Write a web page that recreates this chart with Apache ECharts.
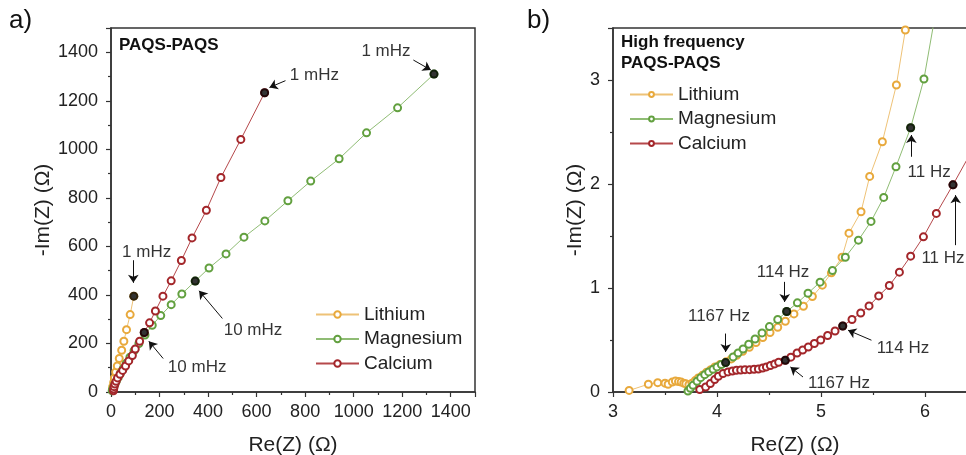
<!DOCTYPE html>
<html>
<head>
<meta charset="utf-8">
<script src="https://cdn.jsdelivr.net/npm/echarts@6/dist/echarts.min.js"></script>
<style>
html, body { margin: 0; padding: 0; background: #fff; }
#chart { width: 966px; height: 455px; }
</style>
</head>
<body>
<div id="chart"></div>
<script>
// a) full spectrum, Re(Z) / -Im(Z) in ohm
var lithiumA = [[6,8],[7,22],[11,39],[14,58],[19,82],[26,107],[34,138],[44,172],[53,209],[64,257],[79,319],[94,395]];
var magnesiumA = [[5,5],[7,12],[11,21],[16,32],[22,45],[30,60],[39,77],[50,96],[63,118],[78,143],[95,170],[115,200],[140,235],
  [170,275],[205,315],[248,360],[292,404],[347,457],[404,511],[474,569],[548,638],[634,705],[729,788],[823,869],
  [940,961],[1053,1068],[1181,1171],[1331,1310]];
var calciumA = [[10,5],[11,12],[13,22],[16,33],[21,44],[27,58],[37,73],[48,89],[60,107],[73,128],[88,150],[100,177],
  [118,209],[137,245],[159,285],[183,334],[214,395],[248,458],[290,542],[334,635],[393,749],[453,884],[535,1041],[633,1233]];
var markedA = [[94,395],[633,1233],[1331,1310],[347,457],[137,245]];
var notesA = [
  { text: '1 mHz', at: [1133,1402], from: [1246,1368], to: [1318,1327] },
  { text: '1 mHz', at: [838,1306], from: [719,1283], to: [653,1255] },
  { text: '1 mHz', at: [147,575], from: [92,543], to: [92,450] },
  { text: '10 mHz', at: [585,254], from: [459,303], to: [363,417] },
  { text: '10 mHz', at: [355,103], from: [215,138], to: [156,209] }
];

// b) high frequency zoom
var lithiumB = [[3.155,0.015],[3.34,0.075],[3.43,0.09],[3.50,0.085],[3.53,0.075],[3.57,0.095],[3.60,0.105],[3.63,0.10],
  [3.655,0.095],[3.68,0.085],[3.70,0.08],[3.73,0.07],[3.76,0.085],[3.79,0.11],[3.82,0.135],[3.86,0.16],[3.90,0.19],
  [3.94,0.215],[3.98,0.24],[4.03,0.265],[4.087,0.29],[4.138,0.318],[4.189,0.353],[4.247,0.392],[4.311,0.43],
  [4.375,0.475],[4.44,0.523],[4.51,0.571],[4.584,0.623],[4.657,0.68],[4.74,0.751],[4.831,0.825],[4.917,0.918],
  [5.013,1.027],[5.10,1.146],[5.202,1.296],[5.269,1.527],[5.385,1.733],[5.468,2.073],[5.59,2.406],[5.725,2.952],
  [5.811,3.481],[5.87,4.0]];
var magnesiumB = [[3.721,0.01],[3.744,0.035],[3.769,0.064],[3.808,0.103],[3.843,0.138],[3.882,0.167],[3.92,0.193],
  [3.962,0.218],[4.0,0.241],[4.042,0.264],[4.083,0.283],[4.155,0.337],[4.203,0.375],[4.251,0.414],[4.305,0.459],
  [4.366,0.51],[4.433,0.568],[4.504,0.629],[4.584,0.697],[4.67,0.774],[4.773,0.857],[4.875,0.95],[4.991,1.056],
  [5.11,1.168],[5.234,1.296],[5.36,1.46],[5.481,1.64],[5.603,1.871],[5.721,2.166],[5.862,2.541],[5.99,3.01],[6.12,3.75]];
var calciumB = [[3.834,0.023],[3.891,0.048],[3.936,0.081],[3.978,0.119],[4.013,0.151],[4.058,0.177],[4.106,0.193],
  [4.148,0.202],[4.187,0.209],[4.228,0.212],[4.269,0.215],[4.314,0.215],[4.356,0.218],[4.398,0.221],[4.439,0.231],
  [4.475,0.241],[4.513,0.254],[4.555,0.27],[4.593,0.286],[4.657,0.305],[4.71,0.335],[4.77,0.375],[4.824,0.404],
  [4.878,0.433],[4.936,0.466],[4.997,0.5],[5.064,0.543],[5.135,0.587],[5.209,0.635],[5.298,0.697],[5.382,0.76],
  [5.462,0.828],[5.555,0.924],[5.657,1.024],[5.754,1.152],[5.862,1.306],[5.985,1.492],[6.109,1.717],[6.269,1.992],
  [6.44,2.3],[6.62,2.62]];
var markedB = [[4.083,0.283],[4.67,0.774],[5.862,2.541],[4.657,0.305],[5.209,0.635],[6.269,1.992]];
var notesB = [
  { text: '11 Hz', at: [6.04,2.117], from: [5.869,2.262], to: [5.869,2.471] },
  { text: '11 Hz', at: [6.173,1.284], from: [6.295,1.412], to: [6.295,1.893] },
  { text: '114 Hz', at: [4.635,1.155], from: [4.651,1.059], to: [4.651,0.866] },
  { text: '114 Hz', at: [5.788,0.418], from: [5.485,0.498], to: [5.26,0.594] },
  { text: '1167 Hz', at: [4.019,0.729], from: [4.084,0.562], to: [4.084,0.385] },
  { text: '1167 Hz', at: [5.173,0.081], from: [4.827,0.144], to: [4.706,0.241] }
];

var names = ['Lithium', 'Magnesium', 'Calcium'];
var colors = ['#E8A93C', '#62A03F', '#A3262A'];
var lineColors = ['#EEC277', '#8FBC74', '#B5484B'];
var font = 'Liberation Sans';

function curve(i, data, ax) {
  return {
    name: names[i], type: 'line', xAxisIndex: ax, yAxisIndex: ax, data: data,
    symbol: 'emptyCircle', symbolSize: 7, showSymbol: true, clip: true,
    itemStyle: { color: colors[i], borderColor: colors[i], borderWidth: 1.3 },
    lineStyle: { color: lineColors[i], width: 1 },
    emphasis: { disabled: true }
  };
}

function dots(data, ax) {
  return {
    type: 'scatter', xAxisIndex: ax, yAxisIndex: ax, data: data, z: 5,
    symbolSize: 9, itemStyle: { color: '#000' }, silent: true
  };
}

function notes(list, ax) {
  return {
    type: 'scatter', xAxisIndex: ax, yAxisIndex: ax, z: 6, silent: true,
    symbolSize: 1, itemStyle: { color: 'rgba(0,0,0,0)' },
    data: list.map(function (n) { return { name: n.text, value: n.at }; }),
    label: { show: true, position: 'inside', formatter: '{b}', color: '#000', fontSize: 17, fontFamily: font },
    markLine: {
      silent: true, animation: false, symbol: ['none', 'arrow'], symbolSize: 8,
      lineStyle: { color: '#111', width: 1, type: 'solid' },
      itemStyle: { color: '#111' }, label: { show: false },
      data: list.map(function (n) { return [{ coord: n.from }, { coord: n.to }]; })
    }
  };
}

function plain(v) { return String(v); }

function xAxis(ax, min, max, interval) {
  return {
    gridIndex: ax, type: 'value', min: min, max: max, interval: interval,
    name: 'Re(Z) (\u03A9)', nameLocation: 'middle', nameGap: 43,
    nameTextStyle: { fontSize: 21, fontFamily: font, color: '#222' },
    axisLine: { onZero: false, lineStyle: { color: '#333', width: 1.5 } },
    axisTick: { length: 5, lineStyle: { color: '#333', width: 1.2 } },
    minorTick: { show: true, splitNumber: 2, length: 3, lineStyle: { color: '#333', width: 1.2 } },
    axisLabel: { fontSize: 18, fontFamily: font, color: '#222', margin: 11, showMaxLabel: false, formatter: plain },
    splitLine: { show: false }
  };
}

function yAxis(ax, min, max, interval, gap) {
  return {
    gridIndex: ax, type: 'value', min: min, max: max, interval: interval,
    name: '-Im(Z) (\u03A9)', nameLocation: 'middle', nameGap: gap, nameRotate: 90,
    nameTextStyle: { fontSize: 21, fontFamily: font, color: '#222' },
    axisLine: { onZero: false, lineStyle: { color: '#333', width: 1.5 } },
    axisTick: { length: 5, lineStyle: { color: '#333', width: 1.2 } },
    minorTick: { show: true, splitNumber: 2, length: 3, lineStyle: { color: '#333', width: 1.2 } },
    axisLabel: { fontSize: 18, fontFamily: font, color: '#222', margin: 13, showMaxLabel: false, formatter: plain },
    splitLine: { show: false }
  };
}

var chart = echarts.init(document.getElementById('chart'));
chart.setOption({
  animation: false,
  backgroundColor: '#fff',
  grid: [
    { left: 111, top: 28, width: 364, height: 364, outerBoundsMode: 'none', containLabel: false,
      show: true, borderColor: '#333', borderWidth: 1.5 },
    { left: 613, top: 28, width: 364, height: 364, outerBoundsMode: 'none', containLabel: false,
      show: true, borderColor: '#333', borderWidth: 1.5 }
  ],
  xAxis: [xAxis(0, 0, 1500, 200), xAxis(1, 3, 6.5, 1)],
  yAxis: [yAxis(0, 0, 1500, 200, 55), yAxis(1, 0, 3.5, 1, 27)],
  legend: [
    { data: names, orient: 'vertical', left: 310, top: 300, itemWidth: 43, itemHeight: 8, itemGap: 5.5,
      textStyle: { fontSize: 19, fontFamily: font, color: '#222' }, selectedMode: false },
    { data: names, orient: 'vertical', left: 624, top: 80, itemWidth: 43, itemHeight: 6, itemGap: 5.5,
      textStyle: { fontSize: 19, fontFamily: font, color: '#222' }, selectedMode: false }
  ],
  graphic: [
    { type: 'text', left: 9, top: 8, style: { text: 'a)', fontSize: 26, fontFamily: font, fill: '#111' } },
    { type: 'text', left: 527, top: 8, style: { text: 'b)', fontSize: 26, fontFamily: font, fill: '#111' } },
    { type: 'text', left: 119, top: 37, style: { text: 'PAQS-PAQS', fontSize: 17, fontWeight: 'bold', fontFamily: font, fill: '#111' } },
    { type: 'text', left: 621, top: 32, style: { text: 'High frequency\nPAQS-PAQS', fontSize: 17, lineHeight: 21, fontWeight: 'bold', fontFamily: font, fill: '#111' } }
  ],
  series: [
    curve(0, lithiumA, 0), curve(1, magnesiumA, 0), curve(2, calciumA, 0),
    dots(markedA, 0), notes(notesA, 0),
    curve(0, lithiumB, 1), curve(1, magnesiumB, 1), curve(2, calciumB, 1),
    dots(markedB, 1), notes(notesB, 1)
  ]
});
</script>
</body>
</html>
